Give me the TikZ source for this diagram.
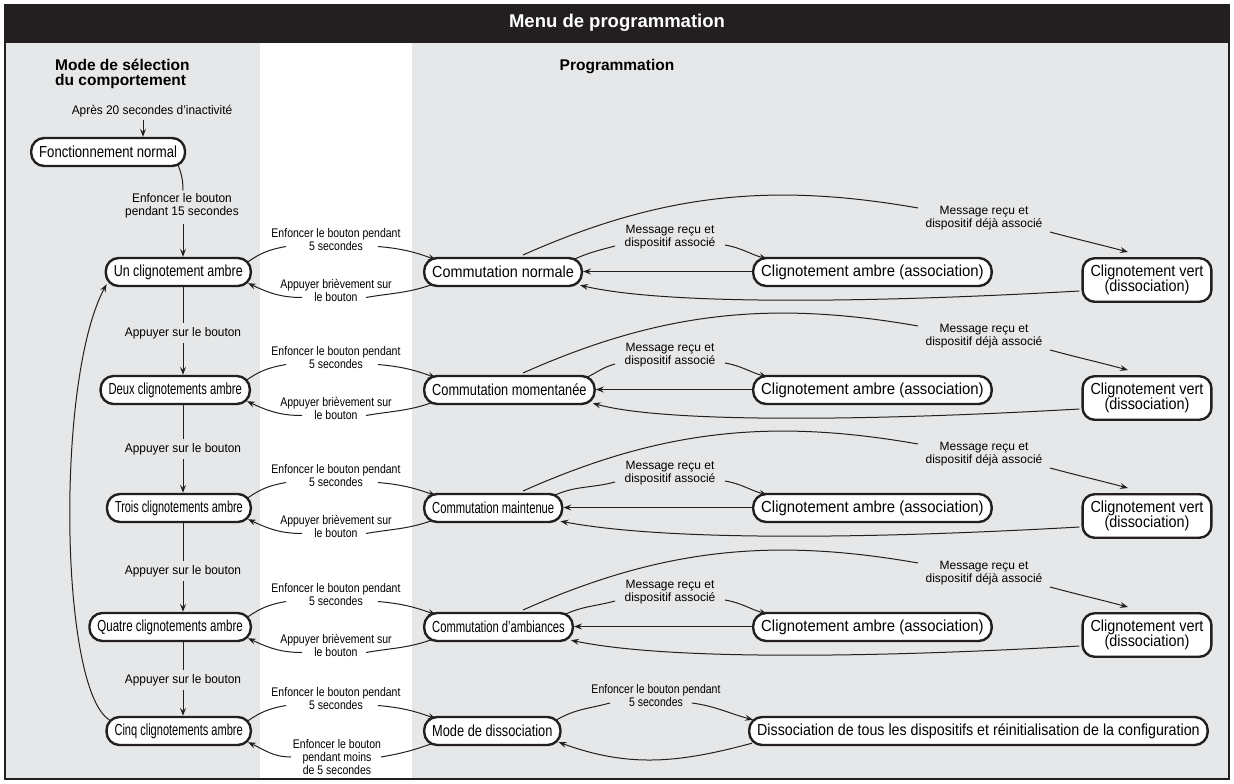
\documentclass[tikz,border=0pt]{standalone}
\usepackage{fontspec}
\usepackage{graphicx}
\setmainfont{Liberation Sans}
\newfontfamily\condf{Liberation Sans}[FakeStretch=0.84]
\newfontfamily\lblf{Liberation Sans}[FakeStretch=0.95]
\newfontfamily\vf{Liberation Sans}[FakeStretch=0.9]
\usetikzlibrary{arrows.meta,calc}
\newcommand\hs[2]{\scalebox{#1}[1]{#2}}
\definecolor{panel}{RGB}{230,231,232}
\definecolor{ink}{RGB}{35,31,32}
\pgfdeclarelayer{bg}
\pgfdeclarelayer{edges}
\pgfsetlayers{bg,edges,main}
\begin{document}
\begin{tikzpicture}[x=1pt,y=1pt,
  st/.style={draw=ink,line width=2.4pt,fill=white,rounded corners=13pt,minimum height=28pt,inner xsep=8pt,inner ysep=2pt,font=\fontsize{16}{16}\selectfont},
  vst/.style={st,rounded corners=12pt,minimum height=43.5pt,align=center,font=\vf\fontsize{16}{15.5}\selectfont},
  ln/.style={draw=ink,line width=1pt},
  arr/.style={ln,-{Stealth[length=8pt,width=6pt,inset=3pt]}},
  wl/.style={font=\condf\fontsize{12.5}{13}\selectfont,align=center,inner sep=0pt},
  gl/.style={font=\fontsize{12}{12.5}\selectfont,align=center,inner sep=0pt},
  ll/.style={font=\lblf\fontsize{12.5}{13}\selectfont,align=center,inner sep=0pt},
  hd/.style={font=\bfseries\fontsize{15.5}{15}\selectfont,inner sep=0pt},
]
\useasboundingbox (0,0) rectangle (1234,-784);
\begin{pgfonlayer}{bg}
\fill[white] (0,0) rectangle (1234,-784);
\fill[panel] (5,-43) rectangle (260,-779);
\fill[panel] (412,-43) rectangle (1229,-779);
\fill[ink] (4,-4) rectangle (1230,-43);
\draw[ink,line width=2.5pt] (5,-5) rectangle (1229,-779);
\end{pgfonlayer}

% headings
\node[font=\bfseries\fontsize{18.5}{18.5}\selectfont,text=white] (title) at (617,-23) {Menu de programmation};
\node[hd,align=left,anchor=north west] (hmode) at (55,-58.5) {Mode de sélection\\du comportement};
\node[hd] (hprog) at (617,-67) {Programmation};

% left column
\node[st,anchor=west] (L0) at (30,-152) {\hs{0.82}{Fonctionnement normal}};
\node[st,anchor=east] (L1) at (252,-272) {\hs{0.78}{Un clignotement ambre}};
\node[st,anchor=east] (L2) at (251,-390) {\hs{0.70}{Deux clignotements ambre}};
\node[st,anchor=east] (L3) at (252,-508) {\hs{0.68}{Trois clignotements ambre}};
\node[st,anchor=east] (L4) at (252,-627) {\hs{0.72}{Quatre clignotements ambre}};
\node[st,anchor=east] (L5) at (252,-731) {\hs{0.69}{Cinq clignotements ambre}};

\node[ll] (apres) at (152,-111) {Après 20 secondes d’inactivité};
\node[ll] (lab15) at (182,-206) {Enfoncer le bouton\\pendant 15 secondes};
\node[ll] (ap1) at (183,-333) {Appuyer sur le bouton};
\node[ll] (ap2) at (183,-449) {Appuyer sur le bouton};
\node[ll] (ap3) at (183,-571) {Appuyer sur le bouton};
\node[ll] (ap4) at (183,-680) {Appuyer sur le bouton};

% middle column
\node[st,anchor=west] (M1) at (423,-272) {\hs{0.9}{Commutation normale}};
\node[st,anchor=west] (M2) at (423,-390) {\hs{0.8}{Commutation momentanée}};
\node[st,anchor=west] (M3) at (423,-508) {\hs{0.7}{Commutation maintenue}};
\node[st,anchor=west] (M4) at (423,-627) {\hs{0.7}{Commutation d’ambiances}};
\node[st,anchor=west] (M5) at (423,-731) {\hs{0.8}{Mode de dissociation}};

% ambre / vert
\foreach \i/\y in {1/272,2/390,3/508,4/627}{
  \node[st,anchor=west] (A\i) at (752,-\y) {\hs{0.93}{Clignotement ambre (association)}};
  \node[vst] (V\i) at (1147,-\y-8) {Clignotement vert\\(dissociation)};
  \node[gl] (ma\i) at (670,-\y+35) {Message reçu et\\dispositif associé};
  \node[gl] (md\i) at (984,-\y+54) {Message reçu et\\dispositif déjà associé};
}
\node[st,anchor=west] (D5) at (748,-731) {\hs{0.89}{Dissociation de tous les dispositifs et réinitialisation de la configuration}};
\node[wl] (en5) at (656,-696) {Enfoncer le bouton pendant\\5 secondes};

% white column labels
\foreach \i/\y in {1/272,2/390,3/508,4/627,5/731}{
  \node[wl] (wt\i) at (336,-\y+32.5) {Enfoncer le bouton pendant\\5 secondes};
}
\foreach \i/\y in {1/272,2/390,3/508,4/627}{
  \node[wl] (wb\i) at (336,-\y-18.5) {Appuyer brièvement sur\\le bouton};
}
\node[wl] (wb5) at (337,-757) {Enfoncer le bouton\\pendant moins\\de 5 secondes};

\begin{pgfonlayer}{edges}
% left column
\coordinate (cap0) at ($(apres.south)+(-9,-3)$);
\draw[arr] (cap0) -- (cap0 |- L0.north);
\draw[ln] ($(L0.south east)+(-8,2)$) to[out=-70,in=90] ($(lab15.north)+(1,3)$);
\coordinate (c15) at ($(lab15.south)+(1,-5)$);
\draw[arr] (c15) -- (c15 |- L1.north);
\foreach \i/\j in {1/2,2/3,3/4,4/5}{
  \draw[ln] (L\i.south -| ap\i.north) -- ($(ap\i.north)+(0,4)$);
  \coordinate (cap\i) at ($(ap\i.south)+(0,-4)$);
  \draw[arr] (cap\i) -- (cap\i |- L\j.north);
}
\draw[arr] ($(L5.north west)+(4,-4)$) .. controls (60,-690) and (55,-380) .. ($(L1.south west)+(2,3)$);

% white column
\foreach \i in {1,...,5}{
  \draw[ln] ($(L\i.north east)+(-4,-5)$) to[out=35,in=190] ($(wt\i.center)+(-50,-7)$);
  \draw[arr] ($(wt\i.center)+(42,-7)$) to[out=-5,in=160] ($(M\i.north west)+(13,-3)$);
}
\foreach \i in {1,...,4}{
  \draw[ln] ($(M\i.south west)+(10,3)$) to[out=200,in=10] ($(wb\i.center)+(30,-7)$);
  \draw[arr] ($(wb\i.center)+(-34,-7)$) to[out=180,in=-25] ($(L\i.south east)+(-4,4)$);
}
\draw[ln] ($(M5.south west)+(10,3)$) to[out=200,in=10] ($(wb5.center)+(44,0)$);
\draw[arr] ($(wb5.center)+(-46,0)$) to[out=180,in=-25] ($(L5.south east)+(-4,4)$);

% middle / right
\foreach \i/\y in {1/272,2/390,3/508,4/627}{
  \draw[ln] ($(M\i.north east)+(-10,-3)$) to[out=25,in=195] ($(ma\i.center)+(-55,-9)$);
  \draw[arr] ($(ma\i.center)+(55,-8)$) to[out=-10,in=165] ($(A\i.north west)+(15,-2)$);
  \draw[arr] ($(A\i.west)+(0,0.5)$) -- ($(M\i.east)+(0,0.5)$);
  \draw[ln] (523,-\y+17) .. controls (660,-\y+78) and (770,-\y+90) .. ($(md\i.center)+(-66,10)$);
  \draw[arr] ($(md\i.center)+(66,-14)$) to[out=-15,in=165] ($(V\i.north)+(-19,5)$);
  \draw[arr] ($(V\i.west)+(-2,-11)$) .. controls (850,-\y-32) and (660,-\y-32) .. ($(M\i.south east)+(-3,2)$);
}
\draw[ln] ($(M5.north east)+(-5,-4)$) to[out=30,in=195] ($(en5.center)+(-46,-7)$);
\draw[arr] ($(en5.center)+(36,-7)$) to[out=-8,in=165] ($(D5.north west)+(5,-4)$);
\draw[arr] ($(D5.south west)+(4,3)$) to[out=195,in=-20] ($(M5.south east)+(-3,4)$);
\end{pgfonlayer}
\end{tikzpicture}
\end{document}
